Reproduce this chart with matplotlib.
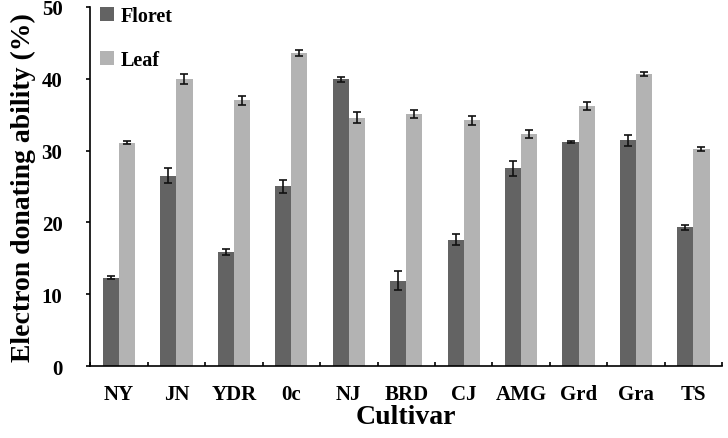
import numpy as np
import matplotlib.pyplot as plt

# === DATA ===
cultivars = ['NY', 'JN', 'YDR', '0c', 'NJ', 'BRD', 'CJ', 'AMG', 'Grd', 'Gra', 'TS']
floret = [12.3, 26.5, 15.9, 25.0, 39.9, 11.9, 17.6, 27.5, 31.2, 31.4, 19.3]
floret_err = [0.2, 1.0, 0.4, 0.9, 0.3, 1.3, 0.8, 1.1, 0.1, 0.7, 0.3]
leaf = [31.1, 40.0, 37.0, 43.6, 34.6, 35.1, 34.2, 32.3, 36.2, 40.7, 30.2]
leaf_err = [0.2, 0.7, 0.6, 0.4, 0.7, 0.6, 0.6, 0.6, 0.6, 0.3, 0.3]

plt.rcParams['font.family'] = ['Liberation Serif', 'DejaVu Serif']
plt.rcParams['font.weight'] = 'bold'

fig = plt.figure(figsize=(7.28, 4.39), dpi=100)
ax = fig.add_axes([0.124, 0.164, 0.868, 0.818])

x = np.arange(len(cultivars))
w = 0.28
err_kw = dict(ecolor='#111111', elinewidth=1.2, capsize=3, capthick=1.2)
ax.bar(x - w / 2, floret, width=w, color='#636363', label='Floret',
       yerr=floret_err, error_kw=err_kw)
ax.bar(x + w / 2, leaf, width=w, color='#b3b3b3', label='Leaf',
       yerr=leaf_err, error_kw=err_kw)

ax.set_xlim(-0.5, len(cultivars) - 0.5)
ax.set_ylim(0, 50)
ax.set_yticks([0, 10, 20, 30, 40, 50])
ax.set_xticks(x)
ax.set_xticklabels(cultivars)
ax.set_xticks(np.arange(-0.5, len(cultivars)), minor=True)
ax.tick_params(axis='x', which='major', length=0, pad=13, labelsize=15)
ax.tick_params(axis='x', which='minor', direction='in', length=3, width=1.2)
ax.tick_params(axis='y', direction='out', length=3, width=1.2, labelsize=15, pad=17)

for s in ['top', 'right']:
    ax.spines[s].set_visible(False)
for s in ['left', 'bottom']:
    ax.spines[s].set_linewidth(1.2)

ax.set_xlabel('Cultivar', fontsize=20, weight='bold', labelpad=0)
ax.set_ylabel('Electron donating ability (%)', fontsize=20, weight='bold', labelpad=4)

ax.legend(loc='upper left', frameon=False, fontsize=14.5, handlelength=0.7,
          handleheight=0.7, handletextpad=0.3, labelspacing=1.2,
          borderaxespad=0.1, bbox_to_anchor=(0.0, 1.03))

fig.savefig('out.png', dpi=100)
